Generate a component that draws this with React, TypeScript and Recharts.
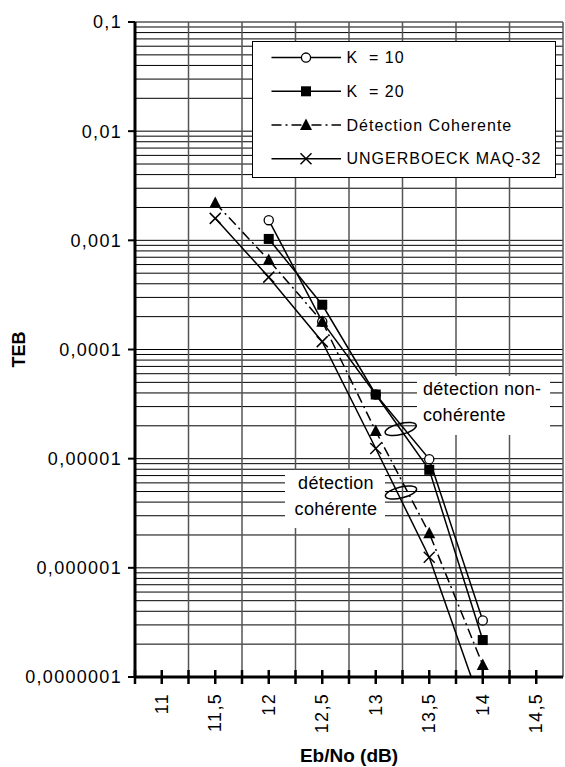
import React from 'react';
import {
  LineChart, Line, XAxis, YAxis, CartesianGrid, Legend, ReferenceDot, Label,
} from 'recharts';

// ---- data ----
const xValues = [11.5, 12, 12.5, 13, 13.5, 14];
const k10 = [null, 1.53e-3, 1.8e-4, 3.87e-5, 9.9e-6, 3.3e-7];
const k20 = [null, 1.03e-3, 2.57e-4, 3.87e-5, 7.9e-6, 2.18e-7];
const coherent = [2.2e-3, 6.6e-4, 1.8e-4, 1.79e-5, 2.07e-6, 1.29e-7];
const ungerboeck = [1.59e-3, 4.6e-4, 1.18e-4, 1.24e-5, 1.25e-6, 5e-8];

const xTickValues = [11, 11.5, 12, 12.5, 13, 13.5, 14, 14.5];
const xTickLabels = ['11', '11,5', '12', '12,5', '13', '13,5', '14', '14,5'];
const yTickValues = [1e-1, 1e-2, 1e-3, 1e-4, 1e-5, 1e-6, 1e-7];
const yTickLabels = ['0,1', '0,01', '0,001', '0,0001', '0,00001', '0,000001', '0,0000001'];

const seriesNames = ['K  = 10', 'K  = 20', 'Détection Coherente', 'UNGERBOECK MAQ-32'];
const seriesKeys = ['k10', 'k20', 'coh', 'ung'];
const seriesMarkers = ['circle', 'square', 'triangle', 'cross'];

const noteNonCoherent = ['détection non-', 'cohérente'];
const noteCoherent = ['détection', 'cohérente'];

const data = xValues.map((x, i) => ({
  x,
  k10: k10[i],
  k20: k20[i],
  coh: coherent[i],
  ung: ungerboeck[i],
}));

// derived grid values
const xStep = xTickValues[1] - xTickValues[0];
const xMin = xTickValues[0] - xStep / 2;
const xMax = xTickValues[xTickValues.length - 1] + xStep / 2;
const boundaries: number[] = [];
for (let v = xMin; v <= xMax + 1e-9; v += xStep) boundaries.push(+v.toFixed(4));
const allXTicks: number[] = [];
for (let v = xMin; v < xMax - 1e-9; v += xStep / 2) allXTicks.push(+v.toFixed(4));
const hGrid: number[] = [];
for (let e = -7; e <= -2; e++) {
  for (let m = 1; m <= 9; m++) hGrid.push(+(m * Math.pow(10, e)).toPrecision(3));
}
hGrid.push(0.1);

const FONT = '"Liberation Sans", Arial, Helvetica, sans-serif';

function Marker({ type, cx, cy }: { type: string; cx: number; cy: number }) {
  if (type === 'circle')
    return <circle cx={cx} cy={cy} r={4.6} fill="#fff" stroke="#000" strokeWidth={1.3} />;
  if (type === 'square')
    return <rect x={cx - 5} y={cy - 5} width={10} height={10} fill="#000" />;
  if (type === 'triangle')
    return <polygon points={`${cx},${cy - 6.5} ${cx + 6},${cy + 5} ${cx - 6},${cy + 5}`} fill="#000" />;
  return (
    <g stroke="#000" strokeWidth={1.5}>
      <line x1={cx - 5.5} y1={cy - 5.5} x2={cx + 5.5} y2={cy + 5.5} />
      <line x1={cx - 5.5} y1={cy + 5.5} x2={cx + 5.5} y2={cy - 5.5} />
    </g>
  );
}

const makeDot = (type: string) => (props: any) => {
  const { cx, cy, index, value } = props;
  if (cx == null || cy == null || value == null || isNaN(cy)) return <g key={`e-${type}-${index}`} />;
  return (
    <g key={`d-${type}-${index}`}>
      <Marker type={type} cx={cx} cy={cy} />
    </g>
  );
};

const XTick = (props: any) => {
  const { x, y, payload } = props;
  const v = payload.value;
  const idx = xTickValues.findIndex((t) => Math.abs(t - v) < 1e-6);
  return (
    <g>
      <line x1={x} x2={x} y1={y - 7} y2={y + 7} stroke="#000" strokeWidth={2.5} />
      {idx >= 0 && (
        <text
          x={x}
          y={y + 16}
          transform={`rotate(-90 ${x} ${y + 16})`}
          textAnchor="end"
          dominantBaseline="central"
          fontSize={18}
          letterSpacing={1.3}
          fill="#000"
        >
          {xTickLabels[idx]}
        </text>
      )}
    </g>
  );
};

const LegendBox = () => (
  <div
    style={{
      width: 304,
      height: 137,
      background: '#fff',
      border: '1px solid #000',
      boxSizing: 'border-box',
      position: 'relative',
      fontFamily: FONT,
    }}
  >
    <svg width={304} height={137} style={{ position: 'absolute', left: -1, top: -1, overflow: 'visible' }}>
      {seriesNames.map((name, i) => {
        const y = 16.6 + i * 33.7;
        return (
          <g key={name}>
            <line
              x1={19.5}
              x2={89}
              y1={y}
              y2={y}
              stroke="#000"
              strokeWidth={1.5}
              strokeDasharray={i === 2 ? '10 4 2 4' : undefined}
            />
            <Marker type={seriesMarkers[i]} cx={54} cy={y} />
            <text
              x={94.5}
              y={y}
              dominantBaseline="central"
              fontSize={16}
              letterSpacing={1}
              fill="#000"
              style={{ whiteSpace: 'pre' }}
            >
              {name}
            </text>
          </g>
        );
      })}
    </svg>
  </div>
);

const Ellipse = (props: any) => {
  const { cx, cy } = props;
  if (cx == null || cy == null) return <g />;
  return (
    <ellipse
      cx={cx}
      cy={cy}
      rx={16}
      ry={5.5}
      transform={`rotate(-14 ${cx} ${cy})`}
      fill="none"
      stroke="#000"
      strokeWidth={1.5}
    />
  );
};

const NoteBox = (lines: string[], w: number, h: number, align: 'start' | 'middle') => (props: any) => {
  const { cx, cy } = props;
  if (cx == null || cy == null) return <g />;
  const tx = align === 'start' ? cx - w / 2 + 6 : cx + 1;
  return (
    <g>
      <rect x={cx - w / 2} y={cy - h / 2} width={w} height={h} fill="#fff" />
      {lines.map((t, i) => (
        <text
          key={t}
          x={tx}
          y={cy - h / 2 + 19 + i * 26}
          textAnchor={align}
          fontSize={18}
          letterSpacing={0.3}
          fill="#000"
        >
          {t}
        </text>
      ))}
    </g>
  );
};

export default function App() {
  return (
    <div
      style={{
        position: 'absolute',
        left: 0,
        top: 0,
        width: 565,
        height: 767,
        background: '#fff',
        fontFamily: FONT,
      }}
    >
      <LineChart width={565} height={767} data={data} margin={{ top: 22, right: 2, bottom: 0, left: 0 }}>
        <CartesianGrid vertical={false} horizontalValues={hGrid} stroke="#000" strokeWidth={1} />
        <CartesianGrid horizontal={false} verticalValues={boundaries} stroke="#555" strokeWidth={1.5} />
        <XAxis
          dataKey="x"
          type="number"
          domain={[xMin, xMax]}
          ticks={allXTicks}
          interval={0}
          height={90}
          tickSize={0}
          tickMargin={0}
          tickLine={false}
          axisLine={{ stroke: '#000', strokeWidth: 3 }}
          tick={<XTick />}
          allowDataOverflow
        >
          <Label
            content={(p: any) => {
              const vb = p.viewBox || { x: 135, y: 677, width: 428, height: 90 };
              return (
                <text
                  x={vb.x + vb.width / 2}
                  y={vb.y + vb.height - 5}
                  textAnchor="middle"
                  fontSize={19}
                  fontWeight="bold"
                  fill="#000"
                >
                  Eb/No (dB)
                </text>
              );
            }}
          />
        </XAxis>
        <YAxis
          type="number"
          scale="log"
          domain={[1e-7, 1e-1]}
          ticks={yTickValues}
          interval={0}
          width={135}
          allowDataOverflow
          tickSize={7}
          tickMargin={6}
          tickLine={{ stroke: '#000', strokeWidth: 2 }}
          axisLine={{ stroke: '#000', strokeWidth: 3 }}
          tick={{ fontSize: 18, fill: '#000', letterSpacing: 1.3 }}
          tickFormatter={(v: number) => {
            const i = yTickValues.findIndex((t) => Math.abs(Math.log10(t) - Math.log10(v)) < 1e-6);
            return i >= 0 ? yTickLabels[i] : '';
          }}
        >
          <Label
            content={(p: any) => {
              const vb = p.viewBox || { x: 0, y: 22, width: 135, height: 655 };
              const cy = vb.y + vb.height / 2;
              return (
                <text
                  x={19}
                  y={cy}
                  transform={`rotate(-90 19 ${cy})`}
                  textAnchor="middle"
                  dominantBaseline="central"
                  fontSize={18}
                  fontWeight="bold"
                  fill="#000"
                >
                  TEB
                </text>
              );
            }}
          />
        </YAxis>
        <Legend
          layout="vertical"
          align="center"
          verticalAlign="middle"
          content={() => <LegendBox />}
          wrapperStyle={{ left: 252, top: 41, width: 305, height: 137 }}
        />
        {seriesKeys.map((k, i) => (
          <Line
            key={k}
            dataKey={k}
            name={seriesNames[i]}
            stroke="#000"
            strokeWidth={1.5}
            strokeDasharray={i === 2 ? '10 4 2 4' : undefined}
            dot={makeDot(seriesMarkers[i])}
            activeDot={false}
            isAnimationActive={false}
            connectNulls={false}
          />
        ))}
        <ReferenceDot x={14.007} y={3.07e-5} r={0} shape={NoteBox(noteNonCoherent, 133, 59, 'start')} ifOverflow="visible" />
        <ReferenceDot x={12.619} y={4.27e-6} r={0} shape={NoteBox(noteCoherent, 100, 58, 'middle')} ifOverflow="visible" />
        <ReferenceDot x={13.233} y={1.87e-5} r={0} shape={<Ellipse />} ifOverflow="visible" />
        <ReferenceDot x={13.236} y={4.9e-6} r={0} shape={<Ellipse />} ifOverflow="visible" />
      </LineChart>
    </div>
  );
}
